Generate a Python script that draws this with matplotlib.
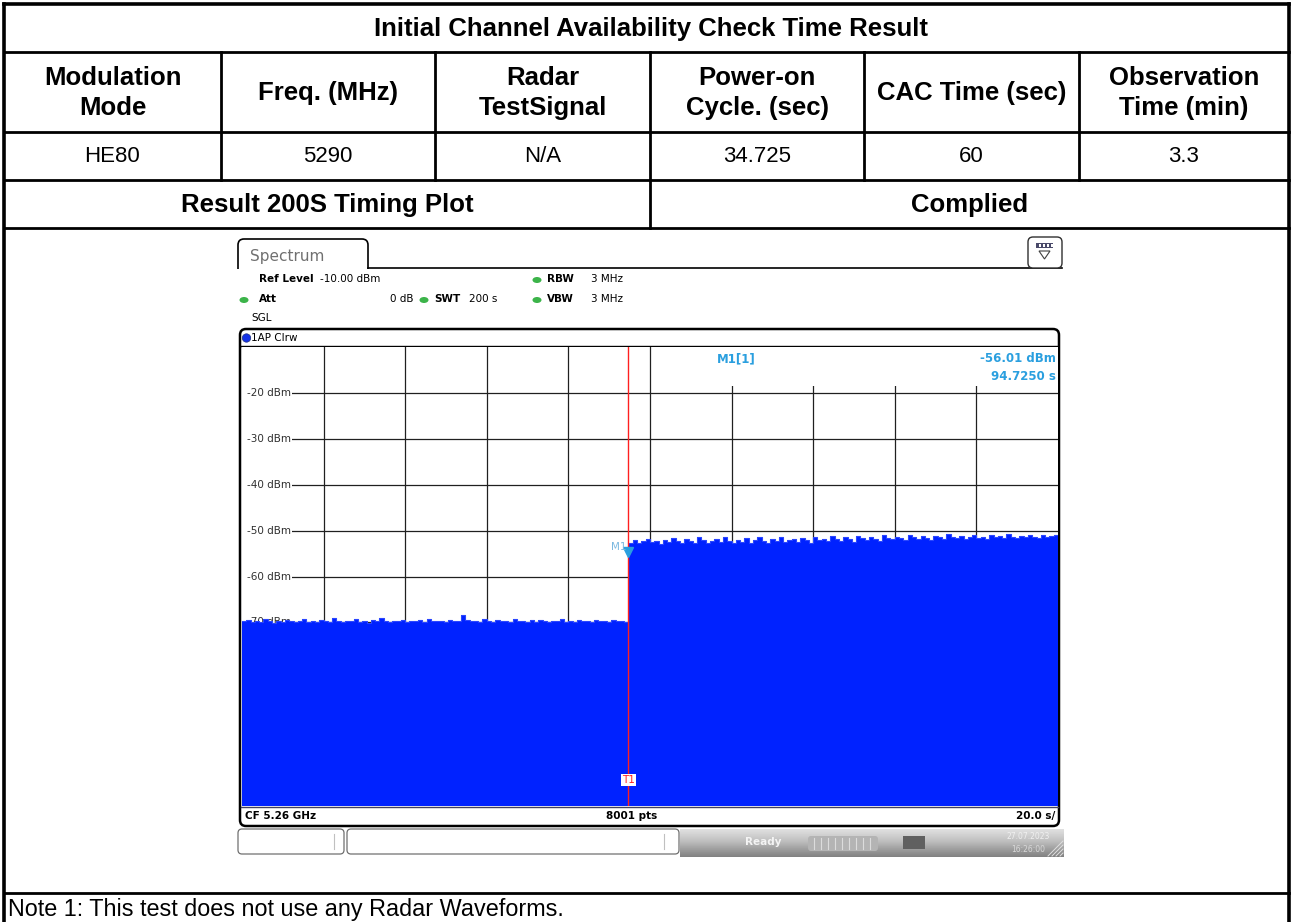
import matplotlib.pyplot as plt
from matplotlib.patches import FancyBboxPatch, Rectangle, Ellipse, Circle, Polygon
import numpy as np

plt.rcParams['font.family'] = ['Liberation Sans', 'DejaVu Sans']

# table content
title = 'Initial Channel Availability Check Time Result'
headers = ['Modulation\nMode', 'Freq. (MHz)', 'Radar\nTestSignal',
           'Power-on\nCycle. (sec)', 'CAC Time (sec)', 'Observation\nTime (min)']
values = ['HE80', '5290', 'N/A', '34.725', '60', '3.3']
plot_label = 'Result 200S Timing Plot'
verdict = 'Complied'
note = 'Note 1: This test does not use any Radar Waveforms.'

# spectrum analyser screenshot (zero span, 200 s sweep)
sweep_time = 200.0
trigger_time = 94.725
marker_level = -56.01
level_ticks = [-20, -30, -40, -50, -60, -70]
# peak envelope of the trace before the power-on (dBm)
level_before = [
    -69.8, -69.5, -70.0, -69.7, -69.9, -69.3, -69.8, -70.1, -69.6, -69.9,
    -69.4, -69.8, -70.0, -69.7, -69.2, -69.9, -69.6, -70.0, -69.5, -69.8,
    -69.9, -69.1, -69.7, -70.0, -69.6, -69.8, -69.3, -69.9, -69.7, -70.1,
    -69.5, -69.8, -69.0, -69.7, -69.9, -69.6, -69.8, -69.4, -70.0, -69.7,
    -69.8, -69.5, -69.9, -69.2, -69.7, -69.6, -69.6, -69.9, -69.5, -69.8,
    -69.7, -68.3, -69.4, -69.8, -69.6, -69.9, -69.3, -69.7, -70.0, -69.5,
    -69.8, -69.6, -69.9, -69.2, -69.8, -69.7, -70.0, -69.5, -69.9, -69.4,
    -69.7, -69.9, -69.6, -69.8, -69.3, -69.9, -69.7, -70.0, -69.5, -69.8,
    -69.6, -69.9, -69.4, -69.8, -69.7, -70.0, -69.5, -69.8, -69.6, -69.9,
]
# peak envelope of the trace after the power-on (dBm)
level_after = [
    -52.6, -52.1, -52.8, -52.3, -51.9, -52.5, -52.2, -52.9, -52.0, -52.4,
    -51.6, -52.3, -52.7, -51.8, -52.2, -52.6, -51.5, -52.1, -52.8, -52.3,
    -51.9, -52.5, -51.4, -52.2, -52.7, -52.0, -52.4, -51.7, -52.6, -52.1,
    -51.5, -52.3, -52.8, -51.9, -52.2, -51.3, -52.5, -52.0, -51.8, -52.4,
    -51.6, -52.1, -52.6, -51.4, -52.0, -51.8, -52.3, -51.2, -51.9, -52.2,
    -51.5, -51.9, -52.4, -51.1, -51.7, -52.0, -51.4, -51.8, -52.2, -51.0,
    -51.6, -51.9, -51.3, -51.7, -52.1, -50.9, -51.5, -51.8, -51.2, -51.6,
    -52.0, -51.1, -51.5, -51.8, -50.8, -51.4, -51.7, -51.2, -51.9, -51.3,
    -50.9, -51.6, -51.4, -51.8, -51.0, -51.5, -51.2, -51.7, -50.8, -51.4,
    -51.6, -51.1, -51.5, -50.9, -51.3, -51.7, -51.0, -51.4, -51.2, -50.9,
]

W, H = 1291, 922
fig = plt.figure(figsize=(W / 100, H / 100), dpi=100)
ax = fig.add_axes([0, 0, 1, 1])
ax.set_xlim(0, W)
ax.set_ylim(H, 0)
ax.axis('off')

# ---- table grid ----
col_x = [4, 221, 435, 650, 864, 1079, 1289]
row_y = [4, 52, 132, 180, 228, 893]
lw_in = 2.0
ax.plot([4, 1289], [4, 4], color='black', lw=2.6)
ax.plot([4, 4], [4, H + 5], color='black', lw=2.6)
ax.plot([1289, 1289], [4, H + 5], color='black', lw=2.6)
for y in row_y[1:]:
    ax.plot([4, 1289], [y, y], color='black', lw=lw_in)
for x in col_x[1:-1]:
    ax.plot([x, x], [52, 180], color='black', lw=lw_in)
ax.plot([650, 650], [180, 228], color='black', lw=lw_in)

fs_b = 18.5
fs_r = 16
ax.text(651, 29, title, ha='center', va='center', fontsize=fs_b, fontweight='bold')
for i, (h, v) in enumerate(zip(headers, values)):
    cx = (col_x[i] + col_x[i + 1]) / 2
    ax.text(cx, 93, h, ha='center', va='center', fontsize=fs_b, fontweight='bold',
            linespacing=1.3)
    ax.text(cx, 157, v, ha='center', va='center', fontsize=fs_r)
ax.text(327, 205, plot_label, ha='center', va='center', fontsize=fs_b, fontweight='bold')
ax.text(970, 205, verdict, ha='center', va='center', fontsize=fs_b, fontweight='bold')
ax.text(8, 909, note, ha='left', va='center', fontsize=16.8)

# ---- analyser screenshot decorations ----
sfont = 'DejaVu Sans'
green = '#3cb44a'
tab = FancyBboxPatch((238, 239), 130, 40, boxstyle='round,pad=0,rounding_size=6',
                     fc='white', ec='black', lw=1.2, zorder=2)
ax.add_patch(tab)
ax.add_patch(Rectangle((235, 269), 136, 12, fc='white', ec='none', zorder=3))
ax.plot([368, 1062], [268.5, 268.5], color='black', lw=1.2, zorder=3)
ax.text(250, 256, 'Spectrum', fontsize=11, color='#707070', family=sfont,
        va='center', zorder=4)

# menu icon top right
ax.add_patch(FancyBboxPatch((1028, 237), 34, 31, boxstyle='round,pad=0,rounding_size=5',
                            fc='white', ec='#303030', lw=1.0, zorder=4))
ax.add_patch(Rectangle((1036, 243), 17, 5, fc='#4a4a6a', ec='none', zorder=5))
for xd in [1039, 1043, 1047, 1051]:
    ax.add_patch(Rectangle((xd, 244.2), 1.6, 2.5, fc='white', ec='none', zorder=6))
ax.add_patch(Polygon([[1039, 251], [1050, 251], [1044.5, 259]], closed=True,
                     fc='white', ec='#404040', lw=0.8, zorder=5))

# settings lines
info = dict(fontsize=7.5, family=sfont, va='center', zorder=4)
ax.text(259, 279, 'Ref Level', fontweight='bold', **info)
ax.text(320, 279, '-10.00 dBm', **info)
ax.text(547, 279, 'RBW', fontweight='bold', **info)
ax.text(591, 279, '3 MHz', **info)
ax.text(259, 299, 'Att', fontweight='bold', **info)
ax.text(413, 299, '0 dB', ha='right', **info)
ax.text(434, 299, 'SWT', fontweight='bold', **info)
ax.text(469, 299, '200 s', **info)
ax.text(547, 299, 'VBW', fontweight='bold', **info)
ax.text(591, 299, '3 MHz', **info)
ax.text(251, 318, 'SGL', **info)
for gx, gy in [(537, 280), (244, 300), (424, 300), (537, 300)]:
    ax.add_patch(Ellipse((gx, gy), 9, 6, fc=green, ec='none', zorder=4))

# diagram frame
ax.add_patch(FancyBboxPatch((240, 329), 819, 497, boxstyle='round,pad=0,rounding_size=6',
                            fc='white', ec='black', lw=1.8, zorder=2))
ax.plot([241, 1058], [346.5, 346.5], color='black', lw=1.0, zorder=3)
ax.plot([241, 1058], [806.5, 806.5], color='#404060', lw=1.0, zorder=3)
ax.add_patch(Circle((246.5, 338), 4.2, fc='#1432e6', ec='#203080', lw=0.5, zorder=4))
ax.text(251, 338, '1AP Clrw', **info)
ax.text(245, 816, 'CF 5.26 GHz', fontsize=7.5, family=sfont, fontweight='bold',
        va='center', zorder=4)
ax.text(632, 816, '8001 pts', fontsize=7.5, family=sfont, fontweight='bold',
        ha='center', va='center', zorder=4)
ax.text(1055, 816, '20.0 s/', fontsize=7.5, family=sfont, fontweight='bold',
        ha='right', va='center', zorder=4)

# status bar below the diagram
grad = np.linspace(0, 1, 40).reshape(-1, 1)
ax.imshow(grad, cmap='Greys', vmin=-0.6, vmax=2.2, aspect='auto',
          extent=[680, 1064, 857, 829], zorder=1)
ax.add_patch(FancyBboxPatch((238, 829), 106, 25, boxstyle='round,pad=0,rounding_size=4',
                            fc='white', ec='#707070', lw=0.9, zorder=3))
ax.plot([334, 334], [834, 849], color='#c0c0c0', lw=0.8, zorder=4)
ax.add_patch(FancyBboxPatch((347, 829), 332, 25, boxstyle='round,pad=0,rounding_size=4',
                            fc='white', ec='#707070', lw=0.9, zorder=3))
ax.plot([664, 664], [834, 849], color='#c0c0c0', lw=0.8, zorder=4)
ax.text(745, 842, 'Ready', fontsize=7.5, family=sfont, fontweight='bold',
        color='#f4f4f4', va='center', zorder=4)
ax.add_patch(FancyBboxPatch((808, 836), 70, 15, boxstyle='round,pad=0,rounding_size=3',
                            fc='#b4b4b4', ec='none', zorder=3))
for xs in range(814, 876, 7):
    ax.plot([xs, xs], [838, 849], color='#dcdcdc', lw=0.8, zorder=4)
ax.add_patch(Rectangle((903, 836), 22, 13, fc='#606060', ec='none', zorder=3))
ax.text(1028, 836, '27.07.2023', fontsize=5.5, family=sfont, color='#f0f0f0',
        ha='center', va='center', zorder=4)
ax.text(1028, 849, '16:26:00', fontsize=5.5, family=sfont, color='#d8d8d8',
        ha='center', va='center', zorder=4)
for k in range(4):
    ax.plot([1048 + 4 * k, 1063], [856, 841 + 4 * k], color='#e0e0e0', lw=0.7, zorder=4)

# ---- trace area ----
sx0, sx1, sy0, sy1 = 242, 1058, 347, 806
axs = fig.add_axes([sx0 / W, 1 - sy1 / H, (sx1 - sx0) / W, (sy1 - sy0) / H])
axs.set_xlim(0, sweep_time)
axs.set_ylim(-110, -10)
axs.set_xticks([])
axs.set_yticks([])
for sp in axs.spines.values():
    sp.set_visible(False)

grid_c = '#202020'
for k in range(1, 10):
    axs.axvline(20 * k, color=grid_c, lw=0.9, zorder=1)
for lv in range(-20, -110, -10):
    axs.axhline(lv, color=grid_c, lw=0.9, zorder=1)
for lv in level_ticks:
    axs.add_patch(Rectangle((0, lv - 1.2), 2.0, 2.4, fc='white', ec='none', zorder=2))
    axs.text(1.2, lv, '%d dBm' % lv, fontsize=7.5, family=sfont, color='#303030',
             va='center', ha='left', zorder=2,
             bbox=dict(fc='white', ec='none', pad=0.6))

# marker readout box hides the top of the grid
axs.add_patch(Rectangle((100.6, -18.5), 99.4, 8.5, fc='white', ec='none', zorder=2))
mcol = '#2a9fdf'
mtext = dict(fontsize=8.5, family=sfont, fontweight='bold', color=mcol,
             va='center', zorder=3)
axs.text(116.4, -12.6, 'M1[1]', **mtext)
axs.text(199.6, -12.6, '%.2f dBm' % marker_level, ha='right', **mtext)
axs.text(199.6, -16.4, '%.4f s' % trigger_time, ha='right', **mtext)

blue = '#0022ff'
t_before = np.linspace(0, trigger_time, len(level_before) + 1)
t_after = np.linspace(trigger_time, sweep_time, len(level_after) + 1)
y_before = level_before + [level_before[-1]]
y_after = level_after + [level_after[-1]]
axs.fill_between(t_before, y_before, -110, step='post', color=blue, lw=0, zorder=4)
axs.step(t_before, y_before, where='post', color='#2a46ff', lw=0.8, zorder=4)
axs.fill_between(t_after, y_after, -110, step='post', color=blue, lw=0, zorder=4)
axs.step(t_after, y_after, where='post', color='#2a46ff', lw=0.8, zorder=4)

# trigger line, marker M1 and T1 label
axs.axvline(trigger_time, color='#ff2020', lw=1.0, zorder=5)
axs.plot([trigger_time], [marker_level + 1.3], marker='v', ms=7, color=mcol,
         mec=mcol, zorder=6, clip_on=False)
axs.text(trigger_time - 0.4, -53.6, 'M1', fontsize=7.5, family=sfont, color='#7ab8e0',
         ha='right', va='center', zorder=6)
axs.text(trigger_time, -104.3, 'T1', fontsize=7.5, family=sfont, color='#ff2020',
         ha='center', va='center', zorder=6,
         bbox=dict(fc='white', ec='none', pad=0.8))

fig.savefig('out.png', dpi=100)
